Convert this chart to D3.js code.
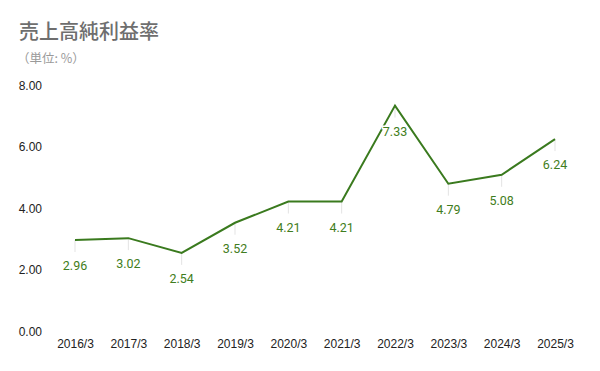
<!DOCTYPE html>
<html>
<head>
<meta charset="utf-8">
<script src="https://cdnjs.cloudflare.com/ajax/libs/d3/7.8.5/d3.min.js"></script>
<style>
  body { margin: 0; background: #fff; }
  svg { display: block; }
  .title { font-family: "Noto Sans CJK JP", sans-serif; font-size: 20px; font-weight: 500; fill: #6e6e6e; }
  .unit { font-family: "Noto Sans CJK JP", sans-serif; font-size: 12.5px; fill: #9a9a9a; }
  .axis text { font-family: "Liberation Sans", Arial, sans-serif; font-size: 12px; fill: #222; }
  .axis path, .axis line { display: none; }
  .val { font-family: Roboto, sans-serif; font-size: 12.5px; fill: #3f7d20; paint-order: stroke; stroke: #fff; stroke-width: 3px; }
</style>
</head>
<body>
<script>
var years = ["2016/3", "2017/3", "2018/3", "2019/3", "2020/3", "2021/3", "2022/3", "2023/3", "2024/3", "2025/3"];
var margins = [2.96, 3.02, 2.54, 3.52, 4.21, 4.21, 7.33, 4.79, 5.08, 6.24];
var yTicks = [0, 2, 4, 6, 8];

var w = 600, h = 371;

var svg = d3.select("body").append("svg")
  .attr("width", w)
  .attr("height", h);

svg.append("text").attr("class", "title")
  .attr("x", 19).attr("y", 39)
  .text("売上高純利益率");

svg.append("text").attr("class", "unit")
  .attr("x", 17).attr("y", 63)
  .text("（単位: %）");

var x = d3.scalePoint()
  .domain(years)
  .range([75, 555]);

var y = d3.scaleLinear()
  .domain([0, 8])
  .range([331, 85]);

svg.append("g")
  .attr("class", "axis")
  .attr("transform", "translate(42,0)")
  .call(d3.axisLeft(y).tickValues(yTicks).tickFormat(d3.format(".2f")).tickSize(0).tickPadding(0))
  .selectAll("text").attr("dy", "0.35em");

svg.append("g")
  .attr("class", "axis")
  .attr("transform", "translate(0,339)")
  .call(d3.axisBottom(x).tickSize(0).tickPadding(0))
  .selectAll("text").attr("dy", "0.71em");

var data = years.map(function (d, i) { return { year: d, v: margins[i] }; });

// leader lines
svg.selectAll("line.lead")
  .data(data)
  .enter().append("line")
  .attr("class", "lead")
  .attr("x1", function (d) { return x(d.year); })
  .attr("x2", function (d) { return x(d.year); })
  .attr("y1", function (d) { return y(d.v); })
  .attr("y2", function (d) { return y(d.v) + 12; })
  .style("stroke", "#e3e3e3")
  .style("stroke-width", 1);

svg.append("path")
  .datum(data)
  .attr("d", d3.line()
    .x(function (d) { return x(d.year); })
    .y(function (d) { return y(d.v); }))
  .style("fill", "none")
  .style("stroke", "#3a7a1e")
  .style("stroke-width", 2);

svg.selectAll("text.val")
  .data(data)
  .enter().append("text")
  .attr("class", "val")
  .attr("x", function (d) { return x(d.year); })
  .attr("y", function (d) { return y(d.v) + 30; })
  .attr("text-anchor", "middle")
  .text(function (d) { return d.v.toFixed(2); });
</script>
</body>
</html>
